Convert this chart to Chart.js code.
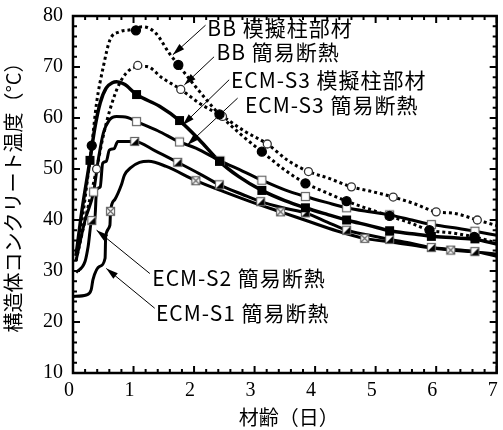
<!DOCTYPE html>
<html>
<head>
<meta charset="utf-8">
<script src="https://cdn.jsdelivr.net/npm/chart.js@4/dist/chart.umd.min.js"></script>
<style>
  html, body { margin: 0; padding: 0; background: #fff; }
</style>
</head>
<body>
<canvas id="chart" width="503" height="430"></canvas>
<script>
'use strict';

// x = 材齢 (days), y = temperature (°C)
const bbColX = [0.05, 0.15, 0.25, 0.31, 0.39, 0.5, 0.61, 0.77, 0.95, 1.15, 1.37, 1.59, 1.74, 2.0, 2.42, 2.8, 3.12, 3.5, 3.84, 4.2, 4.52, 4.9, 5.23, 5.6, 5.89, 6.3, 6.63, 7.0];
const bbColY = [33, 40, 49, 54.6, 63, 70, 75.3, 76.9, 77.3, 77.9, 76.6, 72.7, 70.4, 66.5, 60.7, 56.5, 53.4, 49.8, 47.2, 45.3, 43.7, 42.1, 40.8, 39.3, 38.0, 37.4, 36.7, 35.5];
const bbColMkX = [0.31, 1.04, 1.74, 2.42, 3.12, 3.84, 4.52, 5.23, 5.89, 6.63];
const bbColMkY = [54.6, 77.2, 70.4, 60.7, 53.4, 47.2, 43.7, 40.8, 38.0, 36.7];

const bbInsX = [0.05, 0.2, 0.39, 0.5, 0.61, 0.77, 0.99, 1.21, 1.48, 1.78, 2.1, 2.47, 2.85, 3.21, 3.56, 3.89, 4.22, 4.6, 4.93, 5.29, 5.64, 6.0, 6.3, 6.68, 7.0];
const bbInsY = [32, 40, 50, 56.5, 61.6, 66.8, 69.8, 70.1, 67.8, 65.6, 62.8, 60.3, 57.3, 54.9, 51.6, 49.5, 48.2, 46.5, 45.6, 44.5, 43.2, 41.6, 41.3, 40.0, 38.9];
const bbInsMkX = [0.39, 1.07, 1.78, 2.47, 3.21, 3.89, 4.6, 5.29, 6.0, 6.68];
const bbInsMkY = [50, 70.3, 65.6, 60.3, 54.9, 49.5, 46.5, 44.5, 41.6, 40.0];

const s3ColX = [0.05, 0.15, 0.28, 0.36, 0.45, 0.55, 0.65, 0.72, 0.85, 1.05, 1.43, 1.76, 2.09, 2.42, 2.74, 3.12, 3.5, 3.84, 4.2, 4.52, 4.9, 5.23, 5.6, 5.92, 6.3, 6.64, 7.0];
const s3ColY = [33, 42, 51.7, 58, 63, 65.9, 66.9, 67.1, 66.6, 64.6, 62.3, 59.5, 55.7, 51.5, 48.5, 45.8, 43.8, 42.4, 41.1, 40.0, 38.9, 37.9, 37.3, 36.8, 36.5, 36.2, 35.3];
const s3ColMkX = [0.28, 1.05, 1.76, 2.42, 3.12, 3.84, 4.52, 5.23, 5.92, 6.64];
const s3ColMkY = [51.7, 64.6, 59.5, 51.5, 45.8, 42.4, 40.0, 37.9, 36.8, 36.3];

const s3InsX = [0.05, 0.2, 0.34, 0.42, 0.5, 0.6, 0.72, 0.9, 1.05, 1.4, 1.76, 2.03, 2.43, 2.8, 3.12, 3.5, 3.84, 4.2, 4.52, 4.9, 5.23, 5.6, 5.92, 6.3, 6.64, 7.0];
const s3InsY = [32, 40, 45.5, 52, 57, 59.6, 60.3, 60.1, 59.3, 57.5, 55.3, 54.1, 51.6, 49.6, 47.8, 45.9, 44.6, 43.4, 42.4, 41.6, 41.0, 40.0, 39.1, 38.5, 37.8, 37.0];
const s3InsMkX = [0.34, 1.05, 1.76, 2.43, 3.12, 3.84, 4.52, 5.23, 5.92, 6.64];
const s3InsMkY = [45.5, 59.3, 55.3, 51.6, 47.8, 44.6, 42.4, 41.0, 39.1, 37.8];

const s2InsX = [0.05, 0.2, 0.25, 0.31, 0.36, 0.39, 0.45, 0.49, 0.55, 0.6, 0.68, 0.74, 1.02, 1.35, 1.73, 2.1, 2.42, 2.8, 3.1, 3.5, 3.84, 4.2, 4.52, 4.9, 5.23, 5.6, 5.92, 6.3, 6.64, 7.0];
const s2InsY = [29.7, 31.9, 34.8, 39.9, 40.2, 45.9, 46.5, 51.1, 51.5, 53.7, 54.0, 55.4, 55.4, 53.6, 51.3, 49.0, 46.9, 45.0, 43.6, 42.3, 41.4, 39.6, 38.0, 37.0, 36.2, 35.4, 34.6, 34.2, 33.8, 32.9];
const s2InsMkX = [0.31, 1.02, 1.73, 2.42, 3.1, 3.84, 4.52, 5.23, 5.92, 6.64];
const s2InsMkY = [39.9, 55.4, 51.3, 46.9, 43.6, 41.4, 38.0, 36.2, 34.6, 33.8];

const s1InsX = [0, 0.22, 0.3, 0.33, 0.44, 0.53, 0.54, 0.61, 0.62, 0.69, 0.8, 0.85, 0.95, 1.1, 1.25, 1.54, 2.03, 2.5, 3.0, 3.43, 3.9, 4.35, 4.82, 5.3, 5.8, 6.24, 6.6, 7.0];
const s1InsY = [25.0, 25.3, 26.3, 28.3, 30.9, 32.5, 36.8, 39.0, 41.7, 44.0, 46.9, 48.8, 50.2, 51.3, 51.5, 50.5, 47.7, 45.5, 43.3, 41.6, 39.7, 37.9, 36.4, 35.6, 34.7, 34.1, 33.8, 33.3];
const s1InsMkX = [0.62, 2.03, 3.43, 4.82, 6.24];
const s1InsMkY = [41.7, 47.7, 41.6, 36.4, 34.1];

const xTicks = [0, 1, 2, 3, 4, 5, 6, 7];
const yTicks = [10, 20, 30, 40, 50, 60, 70, 80];

// callout labels, placed in data units
const notes = [
  { text: 'BB 模擬柱部材', x: 2.22, y: 77.6, from: [2.19, 78.2], to: [1.65, 72.4] },
  { text: 'BB 簡易断熱', x: 2.37, y: 72.9, from: [2.33, 72.0], to: [1.84, 66.5] },
  { text: 'ECM-S3 模擬柱部材', x: 2.61, y: 67.5, from: [2.58, 67.5], to: [1.81, 58.6] },
  { text: 'ECM-S3 簡易断熱', x: 2.84, y: 62.5, from: [2.72, 63.9], to: [1.89, 54.7] },
  { text: 'ECM-S2 簡易断熱', x: 1.31, y: 28.6, from: [1.27, 29.5], to: [0.39, 38.0] },
  { text: 'ECM-S1 簡易断熱', x: 1.37, y: 21.8, from: [1.35, 22.7], to: [0.55, 30.5] }
];

const toPts = (xs, ys) => xs.map((x, i) => ({ x: x, y: ys[i] }));

function squareMarker(kind) {
  const c = document.createElement('canvas');
  c.width = 11; c.height = 11;
  const g = c.getContext('2d');
  const a = 1, b = 10;
  if (kind === 'filled') {
    g.fillStyle = '#000';
    g.fillRect(a, a, b - a, b - a);
    return c;
  }
  g.fillStyle = '#fff';
  g.fillRect(a, a, b - a, b - a);
  if (kind === 'half') {
    g.fillStyle = '#000';
    g.beginPath();
    g.moveTo(b, a); g.lineTo(b, b); g.lineTo(a, b); g.closePath();
    g.fill();
  }
  g.strokeStyle = '#666';
  g.lineWidth = 1.2;
  if (kind === 'cross') {
    g.beginPath();
    g.moveTo(a + 1, a + 1); g.lineTo(b - 1, b - 1);
    g.moveTo(b - 1, a + 1); g.lineTo(a + 1, b - 1);
    g.stroke();
  }
  g.strokeRect(a + 0.5, a + 0.5, b - a - 1, b - a - 1);
  return c;
}

function lineSet(xs, ys, width, dash) {
  return {
    data: toPts(xs, ys),
    showLine: true,
    pointRadius: 0,
    borderColor: '#000',
    borderWidth: width,
    borderDash: dash || [],
    borderCapStyle: 'butt',
    cubicInterpolationMode: 'monotone',
    order: 1
  };
}

function markSet(xs, ys, style, radius, fill, stroke) {
  return {
    data: toPts(xs, ys),
    showLine: false,
    pointStyle: style,
    pointRadius: radius,
    pointBackgroundColor: fill,
    pointBorderColor: stroke,
    pointBorderWidth: 1.3,
    order: 0
  };
}

const sans = '"Noto Sans CJK JP", "Noto Sans", sans-serif';
const serif = '"Liberation Serif", serif';

const decor = {
  id: 'decor',
  afterDraw(chart) {
    const { ctx, chartArea: ca, scales: { x, y } } = chart;
    ctx.save();
    ctx.strokeStyle = '#000';
    ctx.lineWidth = 2;
    // inward ticks on all four sides
    for (let v = 0; v <= 7.001; v += 0.2) {
      const px = x.getPixelForValue(v);
      const len = Math.abs(v - Math.round(v)) < 1e-6 ? 7 : 4;
      ctx.beginPath();
      ctx.moveTo(px, ca.bottom); ctx.lineTo(px, ca.bottom - len);
      ctx.moveTo(px, ca.top); ctx.lineTo(px, ca.top + len);
      ctx.stroke();
    }
    for (let v = 10; v <= 80.001; v += 2) {
      const py = y.getPixelForValue(v);
      const len = v % 10 === 0 ? 7 : 4;
      ctx.beginPath();
      ctx.moveTo(ca.left, py); ctx.lineTo(ca.left + len, py);
      ctx.moveTo(ca.right, py); ctx.lineTo(ca.right - len, py);
      ctx.stroke();
    }
    ctx.lineWidth = 2.5;
    ctx.strokeRect(ca.left, ca.top, ca.right - ca.left, ca.bottom - ca.top);

    // tick labels
    ctx.fillStyle = '#000';
    ctx.font = '20px ' + serif;
    ctx.textAlign = 'center';
    ctx.textBaseline = 'middle';
    xTicks.forEach(v => ctx.fillText(String(v), x.getPixelForValue(v) - 4, ca.bottom + 18));
    ctx.textAlign = 'right';
    yTicks.forEach(v => ctx.fillText(String(v), ca.left - 10, y.getPixelForValue(v)));

    // callouts
    ctx.lineWidth = 1;
    notes.forEach(n => {
      const x0 = x.getPixelForValue(n.from[0]), y0 = y.getPixelForValue(n.from[1]);
      const x1 = x.getPixelForValue(n.to[0]), y1 = y.getPixelForValue(n.to[1]);
      const ang = Math.atan2(y1 - y0, x1 - x0);
      ctx.beginPath();
      ctx.moveTo(x0, y0); ctx.lineTo(x1, y1);
      ctx.stroke();
      ctx.beginPath();
      ctx.moveTo(x1, y1);
      ctx.lineTo(x1 - 12 * Math.cos(ang) + 3.5 * Math.sin(ang), y1 - 12 * Math.sin(ang) - 3.5 * Math.cos(ang));
      ctx.lineTo(x1 - 12 * Math.cos(ang) - 3.5 * Math.sin(ang), y1 - 12 * Math.sin(ang) + 3.5 * Math.cos(ang));
      ctx.closePath();
      ctx.fill();
      ctx.font = '21px ' + sans;
      ctx.letterSpacing = '1px';
      ctx.textBaseline = 'middle';
      ctx.textAlign = 'left';
      ctx.fillText(n.text, x.getPixelForValue(n.x), y.getPixelForValue(n.y));
    });

    // axis titles
    ctx.letterSpacing = '0px';
    ctx.font = '20px ' + sans;
    ctx.textAlign = 'center';
    ctx.textBaseline = 'middle';
    ctx.fillText('材齢（日）', (ca.left + ca.right) / 2 + 4, 417);
    ctx.translate(13, (ca.top + ca.bottom) / 2 - 2);
    ctx.rotate(-Math.PI / 2);
    ctx.fillText('構造体コンクリート温度（°C）', 0, 0);
    ctx.restore();
  }
};

new Chart(document.getElementById('chart'), {
  type: 'scatter',
  data: {
    datasets: [
      lineSet(bbColX, bbColY, 3, [3, 3]),
      lineSet(bbInsX, bbInsY, 3, [3, 3]),
      lineSet(s3ColX, s3ColY, 3.5),
      lineSet(s3InsX, s3InsY, 3),
      lineSet(s2InsX, s2InsY, 3),
      lineSet(s1InsX, s1InsY, 3),
      markSet(bbColMkX, bbColMkY, 'circle', 4.5, '#000', '#000'),
      markSet(bbInsMkX, bbInsMkY, 'circle', 4, '#fff', '#333'),
      markSet(s3ColMkX, s3ColMkY, squareMarker('filled'), 5, '#000', '#000'),
      markSet(s3InsMkX, s3InsMkY, squareMarker('open'), 5, '#fff', '#666'),
      markSet(s2InsMkX, s2InsMkY, squareMarker('half'), 5, '#fff', '#666'),
      markSet(s1InsMkX, s1InsMkY, squareMarker('cross'), 5, '#fff', '#666')
    ]
  },
  options: {
    responsive: false,
    animation: false,
    layout: { padding: { top: 16, right: 4, left: 0, bottom: 0 } },
    plugins: { legend: { display: false }, tooltip: { enabled: false } },
    scales: {
      x: {
        type: 'linear', min: 0, max: 7,
        afterFit: s => { s.height = 57; },
        grid: { display: false, drawTicks: false },
        border: { display: false },
        ticks: { display: false }
      },
      y: {
        min: 10, max: 80,
        afterFit: s => { s.width = 73; },
        grid: { display: false, drawTicks: false },
        border: { display: false },
        ticks: { display: false }
      }
    }
  },
  plugins: [decor]
});
</script>
</body>
</html>
